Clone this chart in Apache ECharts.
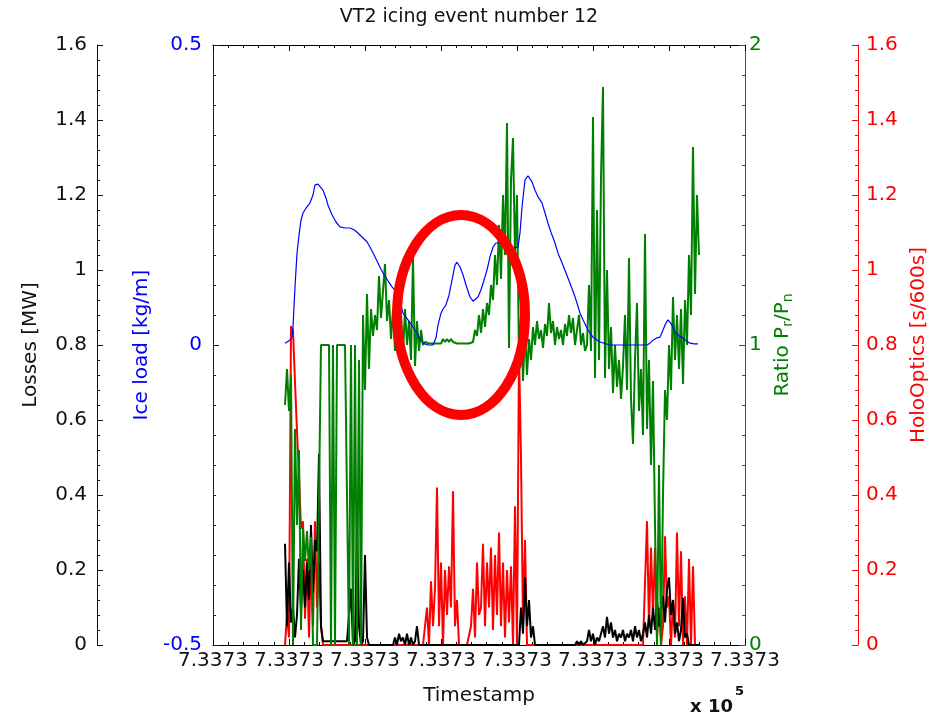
<!DOCTYPE html>
<html>
<head>
<meta charset="utf-8">
<script src="https://cdn.jsdelivr.net/npm/echarts@6/dist/echarts.min.js"></script>
<style>html,body{margin:0;padding:0;background:#fff}#c{width:938px;height:720px}</style>
</head>
<body>
<div id="c"></div>
<script>
const chartTitle = 'VT2 icing event number 12';
const xTickLabels = ['7.3373','7.3373','7.3373','7.3373','7.3373','7.3373','7.3373','7.3373'];

// evenly sampled series: time offset of first sample and sample period
const sampleStart = 72;
const samplePeriod = 2;

const ratioPrPn = [
  0.80,0.92,0.78,0.90,0.00,0.72,0.40,0.65,0.05,0.39,
  0.28,0.38,0.25,0.36,0.00,0.00,0.00,0.00,1.00,1.00,
  1.00,1.00,1.00,0.00,1.00,0.00,1.00,1.00,1.00,1.00,
  1.00,1.00,0.00,1.00,0.00,1.00,0.00,0.95,0.00,1.10,
  0.85,1.17,0.92,1.12,1.03,1.10,1.05,1.23,1.09,1.18,
  1.27,1.08,1.15,1.02,1.12,0.98,1.14,1.00,1.10,0.97,
  1.12,1.00,1.08,0.95,1.29,0.93,1.08,0.98,1.05,1.00,
  1.01,1.005,1.005,1.005,1.005,1.005,1.005,1.005,1.005,1.02,
  1.01,1.02,1.01,1.02,1.01,1.005,1.005,1.005,1.005,1.005,
  1.005,1.005,1.005,1.005,1.01,1.05,1.03,1.10,1.04,1.12,
  1.06,1.14,1.10,1.20,1.15,1.30,1.20,1.40,1.22,1.50,
  1.30,1.74,0.99,1.55,1.69,1.30,1.50,0.95,1.10,0.88,
  1.05,0.90,1.02,0.95,1.06,1.00,1.08,1.02,1.05,0.99,
  1.07,1.03,1.14,1.04,1.08,1.00,1.06,1.02,1.05,1.00,
  1.07,1.03,1.10,1.04,1.09,1.00,1.05,1.10,1.00,1.04,
  0.98,1.00,1.20,0.98,1.76,0.89,1.45,0.95,1.56,1.86,
  0.89,1.25,0.92,1.06,0.84,1.00,0.86,0.95,0.82,0.93,
  1.10,0.85,1.29,0.82,0.67,0.95,1.14,0.78,0.92,0.70,
  1.37,0.72,0.95,0.60,0.88,0.40,0.00,0.60,0.00,0.50,
  0.85,0.75,1.00,0.85,1.16,0.95,1.10,0.92,1.12,0.87,
  1.15,1.00,1.30,1.10,1.66,1.17,1.50,1.30
];

const holoOptics = [
  0.00,0.08,0.02,0.85,0.84,0.70,0.57,0.45,0.31,0.33,0.07,0.23,0.02,0.25,0.05,0.33,0.10,0.22,0.05,
  0,0,0,0,0,0,0,0,0,0, 0,0,0,0,0,0,0,0,0,0, 0,0,0,0,0,0,0,0,0,0,
  0,0,0,0,0,0,0,0,0,0, 0,0,0,0,0,0,0,0,0,0, 0,0,
  0.10,0.00,0.17,0.05,0.15,0.42,0.05,0.22,0.00,0.20,0.08,0.21,0.10,0.41,0.05,0.12,
  0,0,0,0,0,0,
  0.05,0.15,0.02,0.22,0.08,0.10,0.27,0.05,0.22,0.10,0.26,0.04,0.24,0.08,0.30,
  0.05,0.22,0.02,0.20,0.06,0.21,0.00,0.37,0.00,0.78,0.50,0.05,0.28,0.00,
  0,0,0,0,0,0,0,0,0,0, 0,0,0,0,0,0,0,0,0,0, 0,0,0,0,0,0,0,0,0,0,
  0,0,0,0,0,0,0,0,0,0, 0,0,0,0,0,0,0,0,0,0, 0,0,0,0,0,0,0,0,0,
  0.33,0.05,0.26,0.08,0.26,0.02,0.10,0.00,0.05,0.29,0.10,0.13,0.00,0.12,0.02,
  0.30,0.05,0.25,0.00,0.13,0.00,0.23,0.00,0.21,0.00,0.00,0.00
];

const lossesMW = [
  0.27,0.05,0.22,0.06,0.10,0.02,0.08,0.23,0.09,0.20,0.10,0.22,0.12,0.32,0.14,0.28,0.25,0.51,0.05,
  0.01,0.01,0.01,0.01,0.01,0.01,0.01,0.01,0.01,0.01,0.01,0.01,0.01,0.01,
  0.15,0.00,0.01,0.31,0.05,0.00,0.01,0.24,0.02,
  0,0,0,0,0,0,0,0,0,0,0,0,0,
  0.02,0.00,0.03,0.01,0.02,0.00,0.03,0.00,0.02,0.00,0.01,0.05,
  0,0,0,0,0,0,0,0,0,0, 0,0,0,0,0,0,0,0,0,0, 0,0,0,0,0,0,0,0,0,0,
  0,0,0,0,0,0,0,0,0,0, 0,0,0,0,0,0,0,0,0,0, 0,
  0.10,0.03,0.18,0.05,0.12,0.02,0.05,
  0,0,0,0,0,0,0,0,0,0, 0,0,0,0,0,0,0,0,0,0, 0,
  0.01,0.00,0.01,0.00,0.00,0.01,0.04,0.01,0.03,0.00,
  0.02,0.01,0.03,0.05,0.02,0.075,0.03,0.06,0.02,0.04,
  0.01,0.03,0.02,0.04,0.01,0.03,0.02,0.04,0.01,0.05,
  0.02,0.04,0.01,0.03,0.06,0.02,0.08,0.03,0.10,0.04,
  0.12,0.05,0.09,0.13,0.06,0.15,0.18,0.08,0.12,0.03,
  0.06,0.01,0.04,0.125,0.02,0.03,
  0,0,0,0,0,0
];

const iceTime = [
  72,76,79,80,82,84,86,88,90,93,97,100,102,105,107,110,113,115,119,123,
  127,132,137,141,144,149,154,158,162,166,170,175,179,184,187,190,195,200,204,207,
  210,215,220,223,225,228,230,233,236,239,242,244,247,250,253,257,260,262,265,268,
  271,274,277,280,283,287,291,295,300,305,307,309,312,315,317,319,322,325,329,332,
  335,338,342,345,349,353,357,361,364,367,370,375,380,387,397,417,434,437,440,444,
  447,450,453,455,457,459,462,466,469,473,477,481,485
];
const iceLoad = [
  0.003,0.007,0.012,0.03,0.097,0.153,0.183,0.208,0.22,0.228,
  0.237,0.25,0.267,0.268,0.265,0.258,0.245,0.233,0.217,0.205,
  0.197,0.195,0.195,0.192,0.188,0.18,0.172,0.16,0.147,0.133,
  0.12,0.107,0.097,0.087,0.072,0.053,0.042,0.03,0.02,0.01,
  0.003,0,0,0.012,0.033,0.053,0.06,0.067,0.083,0.108,
  0.133,0.138,0.13,0.117,0.1,0.08,0.073,0.072,0.08,0.092,
  0.108,0.125,0.147,0.163,0.17,0.17,0.163,0.162,0.162,0.163,
  0.187,0.23,0.275,0.282,0.283,0.272,0.258,0.247,0.237,0.22,
  0.203,0.188,0.17,0.153,0.137,0.12,0.103,0.085,0.07,0.053,
  0.042,0.025,0.013,0.005,0,0,0,0.003,0.008,0.012,
  0.013,0.025,0.037,0.042,0.042,0.033,0.022,0.015,0.013,0.007,
  0.003,0.002,0.002
];

const FONT = 'DejaVu Sans';
const FS = 20;
const sampled = vals => vals.map((v, i) => [sampleStart + i * samplePeriod, v]);
const paired = (ts, vs) => ts.map((t, i) => [t, vs[i]]);

function yAx(o) {
  return Object.assign({
    type: 'value',
    splitLine: { show: false },
    axisLine: { show: true, onZero: false, lineStyle: { color: o.color, width: 1 } },
    axisTick: { show: true, inside: true, length: 6, lineStyle: { color: o.color } },
    minorTick: { show: true, splitNumber: o.minor, length: 3, lineStyle: { color: o.color } },
    axisLabel: { color: o.color, fontSize: FS, fontFamily: FONT, margin: o.margin, showMinLabel: true, showMaxLabel: true },
    nameLocation: 'middle',
    nameRotate: 90,
    nameTextStyle: Object.assign({ color: o.color, fontSize: FS, fontFamily: FONT }, o.nameStyle || {})
  }, o.extra);
}

const xCommon = {
  type: 'value', min: 0, max: 532, interval: 76,
  splitLine: { show: false },
  axisLine: { show: true, onZero: false, lineStyle: { color: '#000', width: 1 } },
  axisTick: { show: true, inside: true, length: 6, lineStyle: { color: '#000' } },
  minorTick: { show: true, splitNumber: 5, length: 3, lineStyle: { color: '#000' } }
};

const chart = echarts.init(document.getElementById('c'), null, { renderer: 'canvas' });
chart.setOption({
  animation: false,
  backgroundColor: '#fff',
  title: {
    text: chartTitle, left: 'center', top: 3,
    textStyle: { color: '#111', fontSize: 19, fontWeight: 'normal', fontFamily: FONT }
  },
  grid: { left: 213, top: 45, width: 532, height: 600, containLabel: false, outerBoundsMode: 'none' },
  xAxis: [
    Object.assign({}, xCommon, {
      position: 'bottom',
      axisLabel: { color: '#111', fontSize: FS, fontFamily: FONT, margin: 6, showMinLabel: true, showMaxLabel: true,
        formatter: (v, i) => xTickLabels[i] },
      name: 'Timestamp', nameLocation: 'middle', nameGap: 41,
      nameTextStyle: { color: '#111', fontSize: FS, fontFamily: FONT }
    }),
    Object.assign({}, xCommon, { position: 'top', axisLabel: { show: false } })
  ],
  yAxis: [
    yAx({ color: '#111', minor: 5, margin: 10, extra: {
      min: 0, max: 1.6, interval: 0.2, position: 'left', offset: 116,
      name: 'Losses [MW]', nameGap: 56 } }),
    yAx({ color: '#0000ff', minor: 10, margin: 11, extra: {
      min: -0.5, max: 0.5, interval: 0.5, position: 'left', offset: 0,
      name: 'Ice load [kg/m]', nameGap: 61 } }),
    yAx({ color: '#008000', minor: 10, margin: 4,
      nameStyle: { rich: { s: { fontSize: 14, fontFamily: FONT, color: '#008000', verticalAlign: 'bottom', padding: [12, 0, 0, 0] } } },
      extra: {
      min: 0, max: 2, interval: 1, position: 'right', offset: 0,
      name: 'Ratio P{s|r}/P{s|n}', nameGap: 22 } }),
    yAx({ color: '#ff0000', minor: 5, margin: 8, extra: {
      min: 0, max: 1.6, interval: 0.2, position: 'right', offset: 113,
      name: 'HoloOptics [s/600s]', nameGap: 44 } })
  ],
  series: [
    { name: 'HoloOptics', type: 'line', xAxisIndex: 0, yAxisIndex: 3, data: sampled(holoOptics),
      showSymbol: false, symbol: 'none', z: 2, lineStyle: { color: '#ff0000', width: 2 } },
    { name: 'Losses', type: 'line', xAxisIndex: 0, yAxisIndex: 0, data: sampled(lossesMW),
      showSymbol: false, symbol: 'none', z: 3, lineStyle: { color: '#000000', width: 2 } },
    { name: 'Ratio', type: 'line', xAxisIndex: 0, yAxisIndex: 2, data: sampled(ratioPrPn),
      showSymbol: false, symbol: 'none', z: 4, lineStyle: { color: '#008000', width: 2 } },
    { name: 'Ice load', type: 'line', xAxisIndex: 0, yAxisIndex: 1, data: paired(iceTime, iceLoad),
      showSymbol: false, symbol: 'none', z: 5, lineStyle: { color: '#0000ff', width: 1.2 } }
  ],
  graphic: [
    { type: 'ellipse', shape: { cx: 461, cy: 315, rx: 64, ry: 100 }, z: 100,
      style: { fill: 'rgba(0,0,0,0)', stroke: '#ff0000', lineWidth: 10 } },
    { type: 'text', left: 690, top: 698, z: 100,
      style: { text: 'x 10', fill: '#111', font: 'bold 18px "DejaVu Sans"' } },
    { type: 'text', left: 735, top: 685, z: 100,
      style: { text: '5', fill: '#111', font: 'bold 13px "DejaVu Sans"' } }
  ]
});
</script>
</body>
</html>
